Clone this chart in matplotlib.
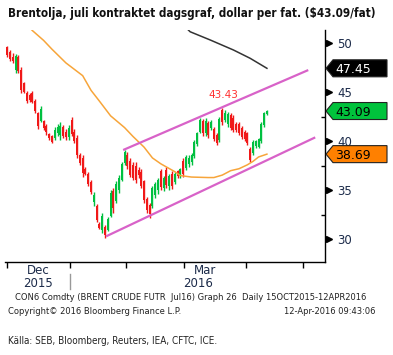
import matplotlib
matplotlib.use('Agg')
import matplotlib.pyplot as plt
import matplotlib.transforms as mtransforms
from matplotlib import font_manager as fm
from matplotlib.patches import Polygon
import numpy as np

# daily candles, Dec 1 2015 -> Apr 12 2016 (trading day index 0..93)
opens = [49.6, 49.1, 48.6, 47.3, 48.6, 47.3, 45.9, 44.9, 44.7, 44.9,
         44.1, 42.9, 42.1, 42.1, 41.6, 40.7, 40.5, 40.3, 40.8, 40.6,
         41.5, 41.0, 40.4, 42.2, 41.0, 40.3, 38.6, 38.3, 37.2, 36.7,
         35.8, 33.8, 33.4, 31.6, 30.9, 31.3, 30.9, 32.4, 34.9, 33.9,
         35.0, 36.1, 37.8, 38.6, 38.0, 37.6, 37.5, 37.1, 36.9, 35.9,
         34.1, 33.5, 33.4, 34.5, 35.0, 37.0, 35.2, 37.1, 35.4, 36.7,
         35.8, 37.0, 36.5, 38.0, 37.3, 37.7, 37.9, 38.5, 39.7, 41.0,
         42.1, 40.8, 41.9, 41.4, 41.3, 40.6, 40.1, 43.2, 42.2, 41.8,
         42.7, 42.4, 41.8, 41.8, 41.4, 41.0, 40.8, 39.2, 38.8, 39.5,
         39.4, 40.0, 41.7, 42.8]
highs = [49.75, 49.3, 49.0, 48.9, 48.8, 47.6, 46.1, 45.1, 44.9, 45.1,
         44.3, 43.0, 43.6, 42.2, 41.8, 40.8, 40.6, 41.5, 41.8, 42.0,
         41.7, 41.3, 41.7, 42.5, 41.3, 40.6, 38.8, 38.6, 37.4, 36.9,
         36.1, 34.8, 33.6, 31.8, 32.7, 31.5, 32.3, 35.0, 35.2, 35.9,
         36.6, 37.9, 39.1, 38.9, 38.3, 37.9, 37.9, 37.4, 37.2, 36.1,
         34.3, 33.7, 35.4, 35.8, 36.3, 37.2, 36.5, 37.4, 36.7, 37.0,
         36.9, 37.1, 37.3, 38.3, 38.6, 38.6, 38.8, 40.1, 41.0, 42.4,
         42.3, 42.4, 42.1, 42.2, 41.5, 40.8, 42.5, 43.43, 43.2, 43.0,
         42.9, 42.7, 42.0, 42.0, 41.6, 41.2, 41.0, 39.4, 40.1, 40.1,
         40.3, 42.0, 43.0, 43.2]
lows = [48.6, 48.2, 48.0, 47.0, 47.0, 44.9, 44.9, 43.9, 44.0, 43.9,
        42.9, 41.3, 42.0, 41.2, 40.6, 40.1, 39.8, 40.1, 40.5, 40.1,
        40.3, 40.1, 40.1, 40.5, 39.8, 38.3, 37.6, 36.4, 36.6, 35.4,
        34.6, 33.4, 31.8, 31.0, 30.6, 30.1, 30.8, 32.3, 32.7, 33.7,
        34.7, 35.9, 37.6, 37.2, 36.4, 36.0, 35.7, 36.3, 35.2, 33.7,
        32.7, 32.2, 33.2, 34.2, 34.6, 35.0, 34.9, 35.2, 35.0, 35.1,
        35.6, 36.3, 36.3, 36.4, 37.1, 37.4, 37.6, 38.3, 39.5, 40.8,
        40.5, 40.5, 40.3, 41.2, 40.0, 39.6, 39.9, 41.7, 42.0, 41.5,
        41.2, 41.0, 41.0, 40.6, 40.2, 40.0, 39.6, 37.9, 38.6, 39.3,
        39.3, 39.8, 41.5, 42.7]
closes = [48.8, 48.4, 48.2, 48.7, 47.2, 45.2, 45.0, 44.1, 44.2, 44.0,
          43.1, 41.6, 43.3, 41.4, 40.9, 40.3, 39.9, 41.2, 41.5, 41.6,
          40.5, 40.4, 41.4, 40.7, 40.0, 38.6, 37.8, 36.8, 36.7, 35.6,
          34.8, 34.5, 32.0, 31.2, 32.4, 30.4, 32.1, 34.7, 33.2, 35.6,
          36.3, 37.7, 38.9, 37.5, 36.6, 36.3, 36.0, 36.6, 35.4, 34.0,
          33.0, 32.6, 35.2, 35.6, 36.1, 35.3, 36.3, 35.5, 36.5, 35.4,
          36.7, 36.5, 37.2, 36.7, 38.4, 38.3, 38.6, 39.9, 40.8, 42.2,
          40.8, 42.1, 40.6, 42.0, 40.2, 39.8, 42.3, 42.0, 42.9, 42.8,
          41.4, 41.2, 41.2, 40.8, 40.4, 40.2, 39.8, 38.1, 39.9, 40.0,
          40.2, 41.8, 42.9, 43.09]

# moving averages (vertices)
ma_short_x = [5, 9, 13, 16, 21, 27, 30, 33, 37, 42, 45, 49, 52, 55, 60,
              62, 66, 72, 74, 77, 80, 83, 86, 88, 90, 93]
ma_short_y = [52.5, 51.3, 50.3, 49.4, 48.0, 46.7, 45.2, 44.1, 42.6, 41.4,
              40.5, 39.4, 38.3, 37.7, 36.9, 36.5, 36.35, 36.3, 36.3, 36.55,
              37.0, 37.2, 37.6, 37.95, 38.4, 38.69]
ma_long_x = [64, 65.5, 72.7, 81, 87, 93]
ma_long_y = [51.6, 51.18, 50.34, 49.32, 48.47, 47.45]

# trend channel
upper_x = [41.5, 107.8]
upper_y = [39.11, 47.27]
lower_x = [35.4, 110.3]
lower_y = [30.3, 40.4]

month_ticks = [0, 22.5, 42.4, 63.4, 85.4, 106]
yticks = [30, 35, 40, 45, 50]
yminor = [32.5, 37.5, 42.5]

last_price = 43.09
peak_price = 43.43
ma_long_last = 47.45
ma_short_last = 38.69


def narrow_font(bold):
    # look for a condensed / narrow face among the installed fonts
    want = 700 if bold else 400
    best = None
    for f in fm.fontManager.ttflist:
        w = f.weight if isinstance(f.weight, int) else fm.weight_dict.get(f.weight, 400)
        if 'Mono' in f.name or f.style != 'normal':
            continue
        narrow = ('Narrow' in f.name or 'Condensed' in f.name
                  or 'ondensed' in str(f.stretch) or 'Condensed' in f.fname)
        if narrow and abs(w - want) < 150:
            if best is None or 'Liberation' in f.name:
                best = f
    if best is None:
        return fm.FontProperties(family='DejaVu Sans',
                                 weight='bold' if bold else 'normal')
    return fm.FontProperties(fname=best.fname)


def fit_width(t, px):
    fig.canvas.draw()
    w = t.get_window_extent().width
    t.set_fontsize(t.get_fontsize() * px / w)


W, H = 393, 355
fig = plt.figure(figsize=(W / 100, H / 100), dpi=100)
ax = fig.add_axes([5 / W, 1 - 262 / H, 320 / W, 232 / H])
ax.set_xlim(-0.82, 113.8)
ax.set_ylim(27.68, 51.36)

for s in ['top', 'left']:
    ax.spines[s].set_visible(False)
for s in ['right', 'bottom']:
    ax.spines[s].set_color('black')
    ax.spines[s].set_linewidth(1)

idx = np.arange(len(closes))
o = np.array(opens)
c = np.array(closes)
cols = ['#00c040' if cc >= oo else '#f01818' for oo, cc in zip(o, c)]
ax.vlines(idx, lows, highs, colors=cols, lw=1)
ax.bar(idx, c - o, bottom=o, width=0.7, color=cols, lw=0)

ax.plot(ma_short_x, ma_short_y, color='#f7a53a', lw=1.1)
ax.plot(ma_long_x, ma_long_y, color='#333333', lw=1.1)
ax.plot(upper_x, upper_y, color='#d862c8', lw=1.6, solid_capstyle='butt')
ax.plot(lower_x, lower_y, color='#d862c8', lw=1.6, solid_capstyle='butt')

ax.text(77.5, 44.72, f'{peak_price:.2f}', color='#ff3030', fontsize=7.5,
        ha='center', va='center')

# y axis on the right, Bloomberg style
ax.yaxis.tick_right()
ax.set_yticks(yticks)
ax.set_yticks(yminor, minor=True)
ax.tick_params(axis='y', which='major', length=0, pad=9, labelsize=8.5,
               labelcolor='#1c2b4a')
ax.tick_params(axis='y', which='minor', direction='in', length=3, width=1)
yblend = mtransforms.blended_transform_factory(ax.transAxes, ax.transData)
ax.plot([1.0125] * len(yticks), yticks, ls='none', marker='>', ms=5,
        color='black', transform=yblend, clip_on=False)

# x axis
ax.set_xticks(month_ticks)
ax.set_xticklabels([])
ax.tick_params(axis='x', direction='out', length=4, width=1)
xblend = mtransforms.blended_transform_factory(ax.transData, ax.transAxes)
lab = dict(fontsize=8.5, color='#1c2b4a', ha='center', va='center',
           transform=xblend)
ax.text(11.1, -0.035, 'Dec', **lab)
ax.text(11.1, -0.092, '2015', **lab)
ax.text(70.9, -0.035, 'Mar', **lab)
ax.text(68.3, -0.092, '2016', **lab)
ax.plot([22.5, 22.5], [-0.05, -0.115], color='#999999', lw=1,
        transform=xblend, clip_on=False)

# price tags on the right
fig.canvas.draw()


def tag(price, text, face, tcol):
    x0, y0 = yblend.transform((1.0, price))
    h = 8.5
    pts = [(x0 + 1, y0), (x0 + 8, y0 + h), (x0 + 62, y0 + h),
           (x0 + 62, y0 - h), (x0 + 8, y0 - h)]
    p = Polygon(pts, closed=True, facecolor=face, edgecolor='#222222',
                lw=0.8, transform=mtransforms.IdentityTransform(),
                clip_on=False)
    fig.add_artist(p)
    fig.text((x0 + 10) / W, y0 / H, text, color=tcol, fontsize=9,
             ha='left', va='center_baseline')


tag(ma_long_last, f'{ma_long_last:.2f}', 'black', 'white')
tag(last_price, f'{last_price:.2f}', '#00c23c', 'black')
tag(ma_short_last, f'{ma_short_last:.2f}', '#ff8000', 'black')

title = fig.text(8 / W, 1 - 13 / H,
                 'Brentolja, juli kontraktet dagsgraf, dollar per fat. ($43.09/fat)',
                 fontproperties=narrow_font(True), fontsize=12,
                 color='#111111', va='center')
fit_width(title, 364)

foot = dict(fontsize=6, color='#222222', va='center')
fig.text(15 / W, 1 - 298 / H,
         'CON6 Comdty (BRENT CRUDE FUTR  Jul16) Graph 26  Daily 15OCT2015-12APR2016',
         **foot)
fig.text(8 / W, 1 - 311 / H, 'Copyright\u00a9 2016 Bloomberg Finance L.P.', **foot)
fig.text(376 / W, 1 - 311 / H, '12-Apr-2016 09:43:06', ha='right', **foot)

src = fig.text(8 / W, 1 - 341 / H, 'Källa: SEB, Bloomberg, Reuters, IEA, CFTC, ICE.',
               fontproperties=narrow_font(False), fontsize=8, color='#222222',
               va='center')
fit_width(src, 208)

fig.savefig('out.png', dpi=100)
